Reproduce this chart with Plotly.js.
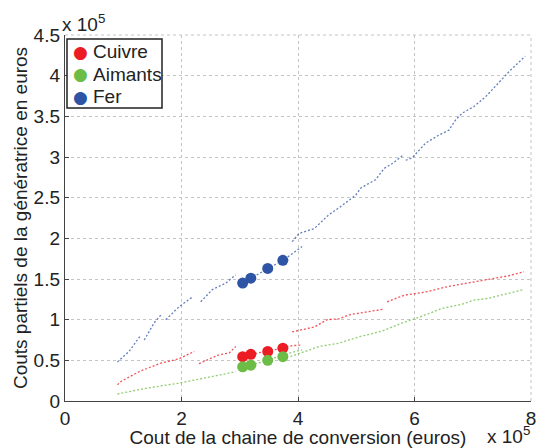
<!DOCTYPE html>
<html>
<head>
<meta charset="utf-8">
<script src="https://cdn.plot.ly/plotly-3.0.1.min.js"></script>
<style>html,body{margin:0;padding:0;background:#fff}#chart{width:541px;height:448px}</style>
</head>
<body>
<div id="chart"></div>
<script>
// Values in units of 1e5 euros; null marks a gap between pieces of the point cloud
var ferCloudX = [0.90,1.10,1.30,null,1.36,1.53,1.65,null,1.73,1.96,2.19,null,2.33,2.53,2.76,2.93,null,3.00,3.05,3.19,3.48,3.74,3.90,4.07,null,3.90,4.02,4.28,4.53,4.73,4.99,5.08,5.33,5.48,5.62,5.82,null,5.85,5.96,6.19,6.42,6.59,6.71,6.82,7.02,7.22,7.51,7.65,7.74,7.90];
var ferCloudY = [0.48,0.61,0.81,null,0.75,0.96,1.06,null,1.00,1.16,1.28,null,1.22,1.37,1.45,1.55,null,1.42,1.45,1.51,1.63,1.73,1.81,1.90,null,1.96,2.06,2.12,2.29,2.39,2.53,2.62,2.72,2.86,2.92,3.03,null,2.96,2.99,3.17,3.27,3.33,3.46,3.54,3.62,3.74,3.97,4.07,4.13,4.24];

var cuivreCloudX = [0.90,0.96,1.27,1.62,1.96,2.22,null,2.30,2.65,2.82,2.93,null,3.00,3.05,3.19,3.48,3.74,3.90,4.07,null,3.90,4.28,4.50,4.70,4.88,5.22,5.48,null,5.53,5.82,6.19,6.59,6.99,7.22,7.62,7.88];
var cuivreCloudY = [0.20,0.24,0.36,0.46,0.52,0.61,null,0.46,0.57,0.59,0.67,null,0.53,0.545,0.574,0.61,0.65,0.68,0.69,null,0.85,0.91,1.00,1.01,1.06,1.10,1.13,null,1.22,1.30,1.34,1.41,1.46,1.49,1.54,1.59];

var aimantsCloudX = [0.90,1.39,1.96,2.53,2.93,null,3.00,3.05,3.19,3.48,3.76,4.07,null,3.87,4.36,4.70,5.05,5.45,5.79,6.08,6.48,6.82,7.02,7.25,7.62,7.88];
var aimantsCloudY = [0.086,0.156,0.22,0.30,0.36,null,0.40,0.42,0.44,0.50,0.57,0.63,null,0.545,0.67,0.71,0.79,0.86,0.96,1.03,1.14,1.19,1.24,1.26,1.32,1.37];

// Highlighted points
var markX = [3.05,3.19,3.48,3.74];
var cuivreY = [0.545,0.574,0.61,0.65];
var aimantsY = [0.42,0.44,0.50,0.545];
var ferY = [1.45,1.51,1.63,1.73];

var names = ['Cuivre','Aimants','Fer'];
var colors = ['#ec1c24','#6cbd45','#2e54a6'];
var xTicks = [0,2,4,6,8];
var yTicks = [0,0.5,1,1.5,2,2.5,3,3.5,4,4.5];

function cloud(x,y,c){return {x:x,y:y,mode:'lines',type:'scatter',showlegend:false,hoverinfo:'skip',
  line:{color:c,width:1.3,dash:'2px,2px'},opacity:0.75,connectgaps:false};}
function marks(y,c,n){return {x:markX,y:y,mode:'markers',type:'scatter',name:n,showlegend:false,
  marker:{color:c,size:11}};}

var data = [
  cloud(cuivreCloudX,cuivreCloudY,colors[0]),
  cloud(aimantsCloudX,aimantsCloudY,colors[1]),
  cloud(ferCloudX,ferCloudY,colors[2]),
  marks(cuivreY,colors[0],names[0]),
  marks(aimantsY,colors[1],names[1]),
  marks(ferY,colors[2],names[2])
];

var font = 'Liberation Sans, Arial, Helvetica, sans-serif';
var txt = '#222';
var gridC = '#c4c4c4', gridDash = 'dot';
// plot area in px: left 65, right 531, top 35, bottom 401
var L=65, R=531, T=35, B=401;
function px2x(p){return (p-L)/(R-L);}
function py2y(p){return (B-p)/(B-T);}

var annotations = [
  {xref:'paper',yref:'paper',x:0,y:1,xanchor:'left',yanchor:'bottom',xshift:-5,yshift:-2,text:'x 10<sup>5</sup>',showarrow:false,font:{size:19,color:txt}},
  {xref:'paper',yref:'paper',x:1,y:py2y(435),xanchor:'right',yanchor:'middle',xshift:1,text:'x 10<sup>5</sup>',showarrow:false,font:{size:19,color:txt}}
];
var legY = [51.5, 74, 96.5];
names.forEach(function(n,i){
  annotations.push({xref:'paper',yref:'paper',x:px2x(80),y:py2y(legY[i]),xanchor:'center',yanchor:'middle',
    text:'●',showarrow:false,font:{family:'DejaVu Sans',size:17,color:colors[i]}});
  annotations.push({xref:'paper',yref:'paper',x:px2x(91),y:py2y(legY[i]),xanchor:'left',yanchor:'middle',
    text:n,showarrow:false,font:{size:19,color:txt}});
});

var layout = {
  width:541,height:448,
  margin:{l:L,r:541-R,t:T,b:448-B,pad:0},
  paper_bgcolor:'#fff',plot_bgcolor:'#fff',
  font:{family:font,size:19,color:txt},
  showlegend:false,
  xaxis:{range:[0,8],tickvals:xTicks,ticktext:xTicks.map(String),showgrid:true,gridcolor:gridC,griddash:gridDash,gridwidth:1,
    showline:true,linecolor:'#444',linewidth:1.2,ticks:'inside',ticklen:4,tickcolor:'#444',zeroline:false,
    tickfont:{size:19,color:txt},
    title:{text:'Cout de la chaine de conversion (euros)',font:{size:19,color:txt},standoff:0},automargin:false,fixedrange:true},
  yaxis:{range:[0,4.5],tickvals:yTicks,ticktext:yTicks.map(String),showgrid:true,gridcolor:gridC,griddash:gridDash,gridwidth:1,
    showline:true,linecolor:'#444',linewidth:1.2,ticks:'inside',ticklen:4,tickcolor:'#444',zeroline:false,
    tickfont:{size:19,color:txt},
    title:{text:'Couts partiels de la génératrice en euros',font:{size:19,color:txt},standoff:1},automargin:false,fixedrange:true},
  annotations:annotations,
  shapes:[
    {type:'line',xref:'paper',yref:'paper',x0:0,x1:1,y0:1,y1:1,line:{color:gridC,width:1,dash:gridDash}},
    {type:'line',xref:'paper',yref:'paper',x0:1,x1:1,y0:0,y1:1,line:{color:gridC,width:1,dash:gridDash}},
    {type:'rect',xref:'paper',yref:'paper',x0:px2x(67),x1:px2x(162),y0:py2y(108),y1:py2y(39),
      fillcolor:'#fff',line:{color:'#222',width:1.5},layer:'above'}
  ]
};
Plotly.newPlot('chart',data,layout,{displayModeBar:false,staticPlot:true});
</script>
</body>
</html>
